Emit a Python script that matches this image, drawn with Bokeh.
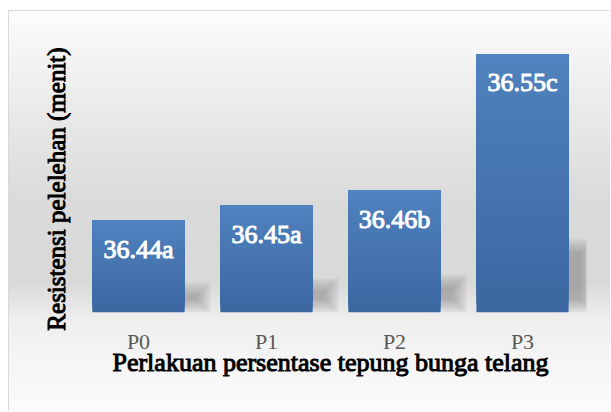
import numpy as np
from bokeh.plotting import figure
from bokeh.models import Range1d, FixedTicker, ColumnDataSource, LabelSet
from bokeh.embed import file_html
from bokeh.resources import INLINE

categories = ["P0", "P1", "P2", "P3"]
values = [36.44, 36.45, 36.46, 36.55]
letters = ["a", "a", "b", "c"]
labels = [f"{v:.2f}{l}" for v, l in zip(values, letters)]
x_title = "Perlakuan persentase tepung bunga telang"
y_title = "Resistensi pelelehan (menit)"

y_start, y_end = 36.3792, 36.5589
xs = np.arange(len(categories))
vals = np.array(values)
bar_w = 0.72
PX_X = 128.0
PX_Y = 1513.6

p = figure(width=602, height=401,
           x_range=Range1d(-0.5, 3.5), y_range=Range1d(y_start, y_end),
           output_backend="svg", toolbar_location=None,
           min_border_left=65, min_border_right=25,
           min_border_top=29, min_border_bottom=100)

p.background_fill_alpha = 0
p.border_fill_alpha = 0
p.outline_line_color = None
p.grid.visible = False
p.styles = {
    "background": "linear-gradient(to bottom, #fdfdfd 0%, #f6f6f6 8%, #e6e6e6 30%, #dadada 48%, #d9d9d9 68%, #eeeeee 77%, #f5f5f5 87%, #fbfbfb 100%)",
    "border-left": "1px solid #d9d9d9",
    "border-top": "1px solid #d9d9d9",
    "margin-left": "8px",
    "margin-top": "10px",
}

# soft shadows to the right of each bar
R = xs + bar_w / 2
h_px = (vals - y_start) * PX_Y
for d in np.linspace(-7, 7, 12):
    p.quad(left=R - 0.1, right=R + (20 + d) / PX_X,
           bottom=y_start + (6 - d) / PX_Y,
           top=y_start + (0.26 * h_px + d) / PX_Y,
           fill_color="black", fill_alpha=0.02, line_color=None)

# bars with vertical gradient
n = 30
c0 = np.array([0x3c, 0x68, 0xa1])
c1 = np.array([0x50, 0x82, 0xbf])
for k in range(n):
    f = k / n
    c = (c0 + (c1 - c0) * (k / (n - 1))).astype(int)
    col = "#%02x%02x%02x" % tuple(c)
    p.quad(left=xs - bar_w / 2, right=xs + bar_w / 2,
           bottom=y_start + f * (vals - y_start), top=vals,
           fill_color=col, line_color=None)

src = ColumnDataSource(dict(x=xs, y=vals, t=labels))
p.add_layout(LabelSet(x="x", y="y", text="t", source=src,
                      text_color="white", text_outline_color="white",
                      text_font="Liberation Serif", text_font_style="normal",
                      text_font_size="26px", text_align="center",
                      text_baseline="middle", y_offset=-29))

xa = p.xaxis[0]
xa.ticker = FixedTicker(ticks=list(xs))
xa.major_label_overrides = {int(i): c for i, c in zip(xs, categories)}
xa.axis_line_color = None
xa.major_tick_line_color = None
xa.minor_tick_line_color = None
xa.major_tick_out = 0
xa.major_label_standoff = 16
xa.major_label_text_font = "Liberation Serif"
xa.major_label_text_font_size = "22px"
xa.major_label_text_color = "#595959"
xa.axis_label = x_title
xa.axis_label_text_font = "Liberation Serif"
xa.axis_label_text_font_style = "normal"
xa.axis_label_text_font_size = "26px"
xa.axis_label_text_color = "black"
xa.axis_label_text_outline_color = "black"
xa.axis_label_standoff = -9

ya = p.yaxis[0]
ya.ticker = FixedTicker(ticks=[])
ya.axis_line_color = None
ya.major_tick_line_color = None
ya.minor_tick_line_color = None
ya.major_tick_out = 0
ya.axis_label = y_title + "\u00a0" * 4
ya.axis_label_text_font = "Liberation Serif"
ya.axis_label_text_font_style = "normal"
ya.axis_label_text_font_size = "25px"
ya.axis_label_text_color = "black"
ya.axis_label_text_outline_color = "black"
ya.axis_label_standoff = 5

open("out.html", "w").write(file_html(p, INLINE))
